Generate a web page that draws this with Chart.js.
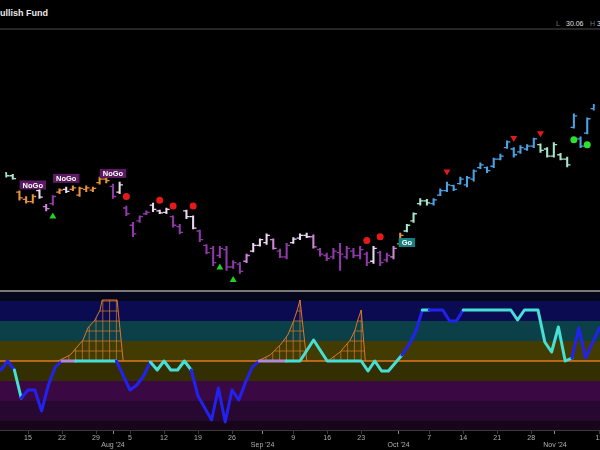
<!DOCTYPE html>
<html>
<head>
<meta charset="utf-8">
<script src="https://cdn.jsdelivr.net/npm/chart.js@4.4.1/dist/chart.umd.min.js"></script>
<style>
  html, body { margin: 0; padding: 0; background: #000; }
  body { width: 600px; height: 450px; position: relative; overflow: hidden; font-family: "Liberation Sans", Arial, sans-serif; }
  #title { position: absolute; left: 0; top: 8px; color: #e8e8e8; font-weight: bold; font-size: 9px; }
  .q { position: absolute; top: 20px; font-size: 7px; color: #777; white-space: nowrap; }
  .q.v { color: #e0e0e0; }
  .rule { position: absolute; left: 0; width: 600px; }
  canvas { position: absolute; left: 0; }
</style>
</head>
<body>
<div id="title">ullish Fund</div>
<div class="q" style="left:556px">L</div>
<div class="q v" style="left:566px">30.06</div>
<div class="q" style="left:590px">H</div>
<div class="q v" style="left:597px">30.10</div>
<div class="rule" style="top:28px;height:2px;background:#262626"></div>
<canvas id="price" width="600" height="261" style="top:30px"></canvas>
<canvas id="osc" width="600" height="159" style="top:291px"></canvas>
<div class="rule" style="top:290px;height:1.5px;background:#7a7a7a"></div>
<script>
// trading day index: 0 = Mon Jul 15 2024
const firstDay = -4;
const xMin = -4.118, xMax = 84.118;

const opens  = [27.72,27.62,27.05,26.80,26.72,27.10,26.55,26.65,27.05,27.15,27.15,26.95,27.15,27.12,27.38,27.50,27.25,27.05,26.50,25.90,
                26.05,26.30,26.60,26.40,26.35,26.20,25.85,26.40,26.20,25.70,25.20,25.10,24.85,25.05,24.45,24.55,24.65,25.00,25.20,25.30,
                25.40,25.00,24.80,25.30,25.45,25.55,25.50,25.05,24.85,24.80,24.95,24.80,25.00,24.85,24.90,24.65,24.95,24.70,24.80,25.25,
                25.70,26.05,26.65,26.75,26.65,26.95,27.10,27.28,27.35,27.30,27.50,27.90,27.90,27.95,28.20,28.60,28.55,28.45,28.55,28.65,
                28.70,28.55,28.30,28.35,28.20,29.30,28.90,29.10,29.95];
const highs  = [27.73,27.67,27.10,26.90,26.97,27.17,26.63,26.93,27.17,27.23,27.27,27.23,27.27,27.23,27.57,27.57,27.33,27.40,26.57,26.00,
                26.23,26.40,26.67,26.43,26.50,26.23,25.93,26.43,26.23,25.73,25.23,25.17,25.17,25.17,24.67,24.60,24.90,25.27,25.43,25.60,
                25.43,25.07,25.27,25.47,25.60,25.63,25.57,25.10,24.93,25.10,25.27,25.17,25.10,25.17,24.97,25.17,25.00,24.93,25.17,25.63,
                25.93,26.33,26.83,26.80,26.83,27.17,27.40,27.30,27.57,27.60,27.83,28.07,27.93,28.23,28.37,28.83,28.60,28.67,28.70,28.93,
                28.73,28.60,28.77,28.40,28.27,29.77,28.97,29.63,30.10];
const lows   = [27.57,27.50,26.77,26.67,26.67,26.83,26.40,26.60,27.00,27.03,27.10,26.90,27.07,27.07,27.33,27.37,26.83,27.00,26.23,25.50,
                26.00,26.27,26.37,26.30,26.30,25.83,25.60,26.13,25.77,25.33,24.90,24.50,24.77,24.33,24.40,24.23,24.60,24.97,25.17,25.23,
                25.07,24.77,24.73,25.27,25.40,25.47,25.10,24.83,24.67,24.73,24.33,24.73,24.77,24.73,24.50,24.57,24.50,24.63,24.73,25.23,
                25.67,26.00,26.60,26.60,26.60,26.93,27.07,27.10,27.33,27.23,27.43,27.87,27.73,27.90,28.17,28.57,28.27,28.40,28.50,28.60,
                28.43,28.27,28.27,28.17,27.93,29.27,28.60,29.07,29.90];
const closes = [27.62,27.52,26.85,26.72,26.90,26.88,26.48,26.90,27.12,27.08,27.20,27.18,27.20,27.18,27.50,27.45,26.90,27.30,26.30,25.60,
                26.20,26.35,26.45,26.33,26.45,25.90,25.65,26.20,25.80,25.40,24.95,24.60,25.10,24.45,24.60,24.30,24.85,25.20,25.40,25.55,
                25.10,24.80,25.20,25.42,25.55,25.50,25.15,24.90,24.75,25.00,24.90,25.10,24.85,25.05,24.60,25.10,24.60,24.85,25.10,25.55,
                25.90,26.30,26.75,26.68,26.78,27.10,27.30,27.15,27.50,27.55,27.78,28.00,27.80,28.20,28.30,28.80,28.35,28.60,28.65,28.90,
                28.50,28.30,28.70,28.20,28.00,29.70,28.65,29.60,30.06];
// G strong go, g weak go, A amber, n weak nogo, p nogo, N strong nogo
const tones = 'ggAAAnpNAnAAAAAANnNNNNnnnNNnnNNNNNNNpnnnpNNnnnpNNNNNNNNnNNpAggggGGGGGGGGGGGGGGGGgggggGGGG';
const toneColors = { G: '#4aa3e6', g: '#a6e8cc', A: '#e8923c', n: '#ecd8f2', p: '#cf86d9', N: '#8f3aa8' };

const upTriDays = [3, 28, 30], upTriPrices = [26.20, 24.43, 24.00];
const downTriDays = [62, 72, 76], downTriPrices = [27.77, 28.93, 29.10];
const redDotDays = [14, 19, 21, 24, 50, 52], redDotPrices = [26.90, 26.77, 26.57, 26.57, 25.37, 25.50];
const greenDotDays = [81, 83], greenDotPrices = [28.87, 28.70];

const signalText = ['NoGo', 'NoGo', 'NoGo', 'Go'];
const signalDays = [0, 5, 12, 56];
const signalPrices = [27.30, 27.53, 27.70, 25.30];
const signalFill = ['#5c1a63', '#5c1a63', '#5c1a63', '#17807e'];

// oscillator
const oscDays   = [-4,-3,-2,-1,0,1,2,3,4,5,7,13,15,16,17,18,19,20,21,22,23,24,25,27,28,29,30,31,32,33,34,38,40,42,44,49,50,51,52,53,
                   55,56,57,58,59,61,62,63,64,71,72,73,75,76,77,78,79,80,81,82,84];
const oscValues = [-0.9,0,-0.9,-3.7,-2.9,-2.9,-5.0,-2.4,-0.6,0,0,0,-2.9,-2.4,-1.5,-0.1,-0.9,0,-0.9,-0.9,0,-0.9,-3.5,-5.9,-2.7,-6.1,-2.9,-3.9,-2.1,-0.6,0,0,0,2.1,0,0,-1.0,0,-1.0,-1.0,
                   0.6,1.6,2.9,5.1,5.1,5.1,4.0,4.0,5.1,5.1,4.1,5.1,5.1,1.9,0.9,3.4,0,0.3,3.3,0.3,3.3];
// colour of the segment that starts at each point
const oscTones  = 'BBABBBBBBLABBBBAAAAAABBBBBBBBBLAAAAAAAAABBBABBBBAAAAAAAAABBBB';
const oscColors = { B: '#2222f0', A: '#46dfd6', L: '#b08ad8' };

const bandEdges  = [7, 6, 4, 2, 0, -2, -4, -6, -6.9];
const bandColors = ['#06061c', '#0b0b52', '#0b4048', '#433c02', '#342f02', '#3a0944', '#260830', '#170519'];

const cones = [
  { days: [4.4, 6.2, 8.1, 8.8, 9.85, 10.6, 10.9, 13.1, 14.0], vals: [0, 0.6, 2.1, 3.3, 4.1, 5.1, 6.1, 6.1, 0] },
  { days: [33.8, 35.6, 37.1, 38.2, 39.0, 39.6, 40.0, 41.0], vals: [0, 0.6, 1.6, 2.6, 3.9, 5.1, 6.1, 0] },
  { days: [44.1, 45.9, 47.4, 48.1, 48.5, 49.0, 49.6], vals: [0, 0.9, 2.1, 3.1, 4.1, 5.1, 0] }
];

const tickDays = [0, 5, 10, 12.5, 15, 20, 25, 30, 34.5, 39, 44, 49, 54.5, 59, 64, 69, 74, 77.5, 84];
const tickText = ['15', '22', '29', ['', "Aug '24"], '5', '12', '19', '26', ['', "Sep '24"], '9', '16', '23', ['', "Oct '24"],
                  '7', '14', '21', '28', ['', "Nov '24"], '11'];

const barDays = opens.map((_, k) => firstDay + k);
const barColors = barDays.map((_, k) => toneColors[tones[k]]);
const tickShift = 0.24;

const priceLabels = {
  id: 'priceLabels',
  afterDatasetsDraw(chart) {
    const { ctx, scales: { x, y } } = chart;
    ctx.save();
    ctx.font = 'bold 7.5px "Liberation Sans", Arial, sans-serif';
    ctx.textAlign = 'center';
    ctx.textBaseline = 'middle';
    signalDays.forEach((d, k) => {
      const px = x.getPixelForValue(d), py = y.getPixelForValue(signalPrices[k]);
      const w = ctx.measureText(signalText[k]).width + 6, h = 9;
      ctx.fillStyle = signalFill[k];
      ctx.fillRect(px - w / 2, py - h / 2, w, h);
      ctx.fillStyle = '#fff';
      ctx.fillText(signalText[k], px, py + 0.5);
    });
    ctx.restore();
  }
};

function profileAt(c, d) {
  for (let k = 0; k < c.days.length - 1; k++) {
    if (d >= c.days[k] && d <= c.days[k + 1]) {
      const t = (d - c.days[k]) / (c.days[k + 1] - c.days[k]);
      return c.vals[k] + t * (c.vals[k + 1] - c.vals[k]);
    }
  }
  return 0;
}

const oscBands = {
  id: 'oscBands',
  beforeDatasetsDraw(chart) {
    const { ctx, chartArea: a, scales: { x, y } } = chart;
    ctx.save();
    for (let k = 0; k < bandColors.length; k++) {
      const top = y.getPixelForValue(bandEdges[k]), bot = y.getPixelForValue(bandEdges[k + 1]);
      ctx.fillStyle = bandColors[k];
      ctx.fillRect(a.left, top, a.right - a.left, bot - top);
    }
    // squeeze cones
    ctx.strokeStyle = '#d9782a';
    cones.forEach(c => {
      ctx.lineWidth = 0.7;
      ctx.beginPath();
      for (let d = Math.ceil(c.days[0]); d < c.days[c.days.length - 1]; d++) {
        const h = profileAt(c, d);
        if (h <= 0) continue;
        ctx.moveTo(x.getPixelForValue(d), y.getPixelForValue(0));
        ctx.lineTo(x.getPixelForValue(d), y.getPixelForValue(h));
      }
      const peak = Math.max(...c.vals);
      for (let lv = 1; lv < peak; lv++) {
        let left = null, right = null;
        for (let k = 0; k < c.days.length - 1; k++) {
          const v0 = c.vals[k], v1 = c.vals[k + 1];
          if (left === null && v0 <= lv && v1 > lv) left = c.days[k] + (lv - v0) / (v1 - v0) * (c.days[k + 1] - c.days[k]);
          if (v0 >= lv && v1 < lv) right = c.days[k] + (v0 - lv) / (v0 - v1) * (c.days[k + 1] - c.days[k]);
        }
        if (left !== null && right !== null) {
          ctx.moveTo(x.getPixelForValue(left), y.getPixelForValue(lv));
          ctx.lineTo(x.getPixelForValue(right), y.getPixelForValue(lv));
        }
      }
      ctx.stroke();
      ctx.lineWidth = 1;
      ctx.beginPath();
      c.days.forEach((d, k) => {
        const px = x.getPixelForValue(d), py = y.getPixelForValue(c.vals[k]);
        if (k) ctx.lineTo(px, py); else ctx.moveTo(px, py);
      });
      ctx.stroke();
    });
    // zero line
    ctx.strokeStyle = '#e07a22';
    ctx.lineWidth = 1.5;
    ctx.beginPath();
    ctx.moveTo(a.left, y.getPixelForValue(0));
    ctx.lineTo(a.right, y.getPixelForValue(0));
    ctx.stroke();
    ctx.restore();
  }
};

const pts = (days, vals, shift) => days.map((d, k) => ({ x: d + (shift || 0), y: vals[k] }));

new Chart(document.getElementById('price'), {
  type: 'bar',
  data: {
    datasets: [
      { type: 'bar', data: barDays.map((d, k) => ({ x: d, y: [lows[k], highs[k]] })),
        backgroundColor: barColors, barThickness: 1.4, grouped: false, borderWidth: 0 },
      { type: 'scatter', data: pts(barDays, opens, -tickShift), pointStyle: 'line', pointRadius: 1.7,
        pointBorderWidth: 1.3, pointBorderColor: barColors },
      { type: 'scatter', data: pts(barDays, closes, tickShift), pointStyle: 'line', pointRadius: 1.7,
        pointBorderWidth: 1.3, pointBorderColor: barColors },
      { type: 'scatter', data: pts(upTriDays, upTriPrices), pointStyle: 'triangle', pointRadius: 4,
        pointBackgroundColor: '#25d025', pointBorderColor: '#25d025', pointBorderWidth: 0 },
      { type: 'scatter', data: pts(downTriDays, downTriPrices), pointStyle: 'triangle', pointRotation: 180, pointRadius: 4,
        pointBackgroundColor: '#e31a1a', pointBorderColor: '#e31a1a', pointBorderWidth: 0 },
      { type: 'scatter', data: pts(redDotDays, redDotPrices), pointStyle: 'circle', pointRadius: 3.5,
        pointBackgroundColor: '#e31a1a', pointBorderWidth: 0 },
      { type: 'scatter', data: pts(greenDotDays, greenDotPrices), pointStyle: 'circle', pointRadius: 3.5,
        pointBackgroundColor: '#2ee02e', pointBorderWidth: 0 }
    ]
  },
  options: {
    responsive: false,
    animation: false,
    events: [],
    layout: { padding: 0 },
    plugins: { legend: { display: false }, tooltip: { enabled: false } },
    scales: {
      x: { type: 'linear', min: xMin, max: xMax, offset: false, display: false, grid: { offset: false } },
      y: { min: 23.8, max: 32.5, display: false }
    }
  },
  plugins: [priceLabels]
});

new Chart(document.getElementById('osc'), {
  type: 'line',
  data: {
    datasets: [{
      data: pts(oscDays, oscValues),
      borderWidth: 3,
      pointRadius: 0,
      borderColor: oscColors.B,
      borderCapStyle: 'round',
      borderJoinStyle: 'round',
      tension: 0,
      segment: { borderColor: c => oscColors[oscTones[c.p0DataIndex]] }
    }]
  },
  options: {
    responsive: false,
    animation: false,
    events: [],
    layout: { padding: 0 },
    plugins: { legend: { display: false }, tooltip: { enabled: false } },
    scales: {
      x: {
        type: 'linear', min: xMin, max: xMax, offset: false,
        afterBuildTicks: s => { s.ticks = tickDays.map(v => ({ value: v })); },
        afterFit: s => { s.height = 20; s.paddingLeft = 0; s.paddingRight = 0; },
        border: { display: true, color: '#3a3a3a' },
        grid: { drawOnChartArea: false, tickLength: 4, color: c => Array.isArray(tickText[c.index]) ? '#8a8a8a' : '#3a3a3a' },
        ticks: {
          autoSkip: false, maxRotation: 0, padding: 1, color: '#b0b0b0',
          font: { size: 7, lineHeight: 1.0, family: '"Liberation Sans", Arial, sans-serif' },
          callback: (v, i) => tickText[i]
        }
      },
      y: { display: false, min: -6.9, max: 7.0 }
    }
  },
  plugins: [oscBands]
});
</script>
</body>
</html>
